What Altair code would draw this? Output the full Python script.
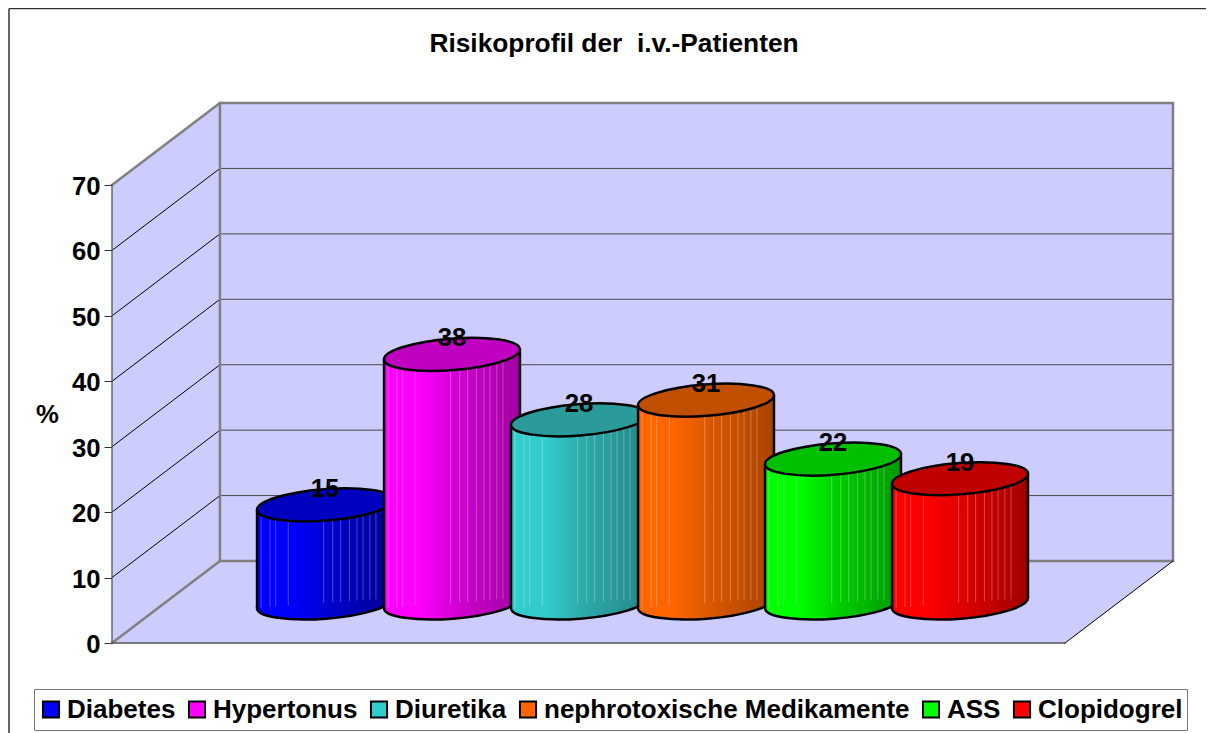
import altair as alt
import pandas as pd

categories = ["Diabetes", "Hypertonus", "Diuretika", "nephrotoxische Medikamente", "ASS", "Clopidogrel"]
values = [15, 38, 28, 31, 22, 19]
bright = ["#0000FF", "#FF00FF", "#33CCCC", "#FF6600", "#00FF00", "#FF0000"]
mid = ["#0000CC", "#D000D0", "#2CA8A8", "#D85600", "#00CC00", "#D80000"]
dark = ["#00008F", "#A000A0", "#258888", "#A84400", "#009900", "#A00000"]
top_fill = ["#0000C0", "#C000C0", "#2A9A9A", "#C05000", "#00C000", "#C00000"]
stripes = [.03, .095, .137, .23, .49, .557, .615, .68, .735, .78, .83, .875]
ticks = [0, 10, 20, 30, 40, 50, 60, 70]

FONT = "Liberation Sans"
FS = 25.7
X_LEFT, X_RIGHT = -1.677, 6.677
DX, DY = 0.85, 12.53
MID_DY = 6.11
HALF_W, TILT = 0.535, 0.764
Y_MAX = 82.53
ELLIPSE = "M-0.997,0.0774 A1,0.23 -4.44 1 1 0.997,-0.0774 A1,0.23 -4.44 1 1 -0.997,0.0774 Z"
ELL_SIZE = 18605

xs = alt.Scale(domain=[X_LEFT, X_RIGHT], nice=False, zero=False)
ys = alt.Scale(domain=[0, Y_MAX], nice=False, zero=False)
yaxis = alt.Axis(
    values=ticks, domain=False, grid=False, tickColor="#333333", tickSize=8, tickWidth=1,
    labelFont=FONT, labelFontWeight="bold", labelFontSize=FS, labelColor="black", labelPadding=4,
    labelOffset=1.5,
    title="%", titleAngle=0, titleFont=FONT, titleFontWeight="bold", titleFontSize=FS,
    titleColor="black", titleX=-65, titleY=311, titleAlign="center", titleBaseline="middle")
X = alt.X("x:Q", scale=xs, axis=None)
Y = alt.Y("y:Q", scale=ys, axis=yaxis)


def area(points, fill, **kw):
    df = pd.DataFrame(points, columns=["x", "y", "y2"])
    return alt.Chart(df).mark_area(orient="vertical", fill=fill, line=False, **kw).encode(
        x=X, y=Y, y2=alt.Y2("y2:Q"))


def polyline(points, color, width):
    df = pd.DataFrame(points, columns=["seg", "x", "y"])
    df["o"] = range(len(df))
    return alt.Chart(df).mark_line(color=color, strokeWidth=width, strokeCap="square").encode(
        x=X, y=Y, detail="seg:N", order="o:Q")


# walls and floor
WALL = "#CCCCFF"
TOP = 70 + DY
layers = [
    area([(X_LEFT + DX, TOP, DY), (X_RIGHT, TOP, DY)], WALL),
    area([(X_LEFT, 70, 0), (X_LEFT + DX, TOP, DY)], WALL),
    area([(X_LEFT, 0, 0), (X_LEFT + DX, DY, 0), (X_RIGHT - DX, DY, 0), (X_RIGHT, DY, DY)], WALL),
]

# grid
wall_grid, side_grid = [], []
for t in ticks[1:-1]:
    wall_grid += [(t, X_LEFT + DX, t + DY), (t, X_RIGHT, t + DY)]
    side_grid += [(t, X_LEFT, t), (t, X_LEFT + DX, t + DY)]
layers.append(polyline(wall_grid, "#4A4A4A", 1))
layers.append(polyline(side_grid, "#000000", 1))

# frame of the box
layers.append(polyline([
    ("a", X_LEFT, 70), ("a", X_LEFT + DX, TOP), ("a", X_RIGHT, TOP), ("a", X_RIGHT, DY),
    ("a", X_LEFT + DX, DY), ("a", X_LEFT, 0),
    ("b", X_LEFT + DX, TOP), ("b", X_LEFT + DX, DY)], "#808080", 2.5))
layers.append(polyline([
    ("a", X_LEFT, 70), ("a", X_LEFT, 0), ("a", X_RIGHT - DX, 0)], "#555555", 1.3))
layers.append(polyline([("a", X_RIGHT - DX, 0), ("a", X_RIGHT, DY)], "#000000", 1))

# legend carrier hidden behind the cylinders
legend_df = pd.DataFrame({"cat": categories, "x": range(6), "y": [MID_DY + 3] * 6})
layers.append(
    alt.Chart(legend_df).mark_square(size=1, filled=True, opacity=1, stroke="black", strokeWidth=2).encode(
        x=X, y=Y,
        fill=alt.Fill("cat:N", scale=alt.Scale(domain=categories, range=bright), legend=alt.Legend(
            title=None, orient="none", legendX=-78, legendY=586, direction="horizontal", columns=6,
            columnPadding=8, padding=4, clipHeight=33, strokeColor="#777777", fillColor="white",
            symbolType="square", symbolSize=260, labelFont=FONT, labelFontWeight="bold", labelFontSize=26,
            labelColor="black", labelLimit=500, labelOffset=3, symbolStrokeColor="black",
            symbolStrokeWidth=2))))


def gradient(i):
    stops = [alt.GradientStop(offset=0, color=bright[i]),
             alt.GradientStop(offset=.25, color=bright[i]),
             alt.GradientStop(offset=.55, color=mid[i]),
             alt.GradientStop(offset=1, color=dark[i])]
    return alt.LinearGradient(gradient="linear", x1=0, x2=1, y1=0, y2=0, stops=stops)


for i, v in enumerate(values):
    grad = gradient(i)
    top = v + MID_DY
    base = MID_DY
    pt = pd.DataFrame({"x": [i], "top": [top], "base": [base]})
    ell = dict(shape=ELLIPSE, size=ELL_SIZE, filled=True, opacity=1, stroke="black", strokeWidth=2.5)
    layers.append(alt.Chart(pt).mark_point(fill=grad, **ell).encode(
        x=X, y=alt.Y("base:Q", scale=ys, axis=yaxis)))
    layers.append(area([(i - HALF_W, top - TILT, base - TILT), (i + HALF_W, top + TILT, base + TILT)], grad))
    # pale vertical facets
    sdf = pd.DataFrame({"x": [i - HALF_W + 2 * HALF_W * s for s in stripes],
                        "f": stripes})
    sdf["y"] = top - TILT + 2 * TILT * sdf["f"]
    sdf["y2"] = base - TILT + 2 * TILT * sdf["f"]
    layers.append(alt.Chart(sdf).mark_rule(color="white", strokeWidth=1, opacity=.28).encode(
        x=X, y=Y, y2=alt.Y2("y2:Q")))
    edges = pd.DataFrame({"x": [i - HALF_W, i + HALF_W], "y": [top - TILT, top + TILT],
                          "y2": [base - TILT, base + TILT]})
    layers.append(alt.Chart(edges).mark_rule(color="black", strokeWidth=2.5).encode(
        x=X, y=Y, y2=alt.Y2("y2:Q")))
    layers.append(alt.Chart(pt).mark_point(fill=top_fill[i], **ell).encode(
        x=X, y=alt.Y("top:Q", scale=ys, axis=yaxis)))

# value labels
label_df = pd.DataFrame({"x": range(6), "y": [v + MID_DY for v in values], "t": [str(v) for v in values]})
layers.append(alt.Chart(label_df).mark_text(font=FONT, fontWeight="bold", fontSize=FS, color="black",
                                            dy=-16, baseline="middle").encode(x=X, y=Y, text="t:N"))

# outer chart frame
layers.append(alt.Chart(pd.DataFrame({"k": [0]})).mark_rule(color="#333333", strokeWidth=1.5).encode(
    x=alt.value(-103), y=alt.value(-94.5), y2=alt.value(630)))
layers.append(alt.Chart(pd.DataFrame({"k": [0]})).mark_rule(color="#333333", strokeWidth=1.5).encode(
    x=alt.value(-103), x2=alt.value(1094), y=alt.value(-94.5)))

chart = alt.layer(*layers).properties(
    width=1061, height=540,
    title=alt.TitleParams("Risikoprofil der \u00a0i.v.-Patienten", font=FONT, fontWeight="bold", fontSize=26.3,
                          color="black", anchor="middle", dx=-28.5, offset=-50),
    autosize=alt.AutoSizeParams(type="none"),
    padding={"left": 104, "top": 95, "right": 33, "bottom": 90},
    background="white",
).configure_view(stroke=None)

chart.save("out.html", embed_options={"renderer": "svg", "actions": False})
